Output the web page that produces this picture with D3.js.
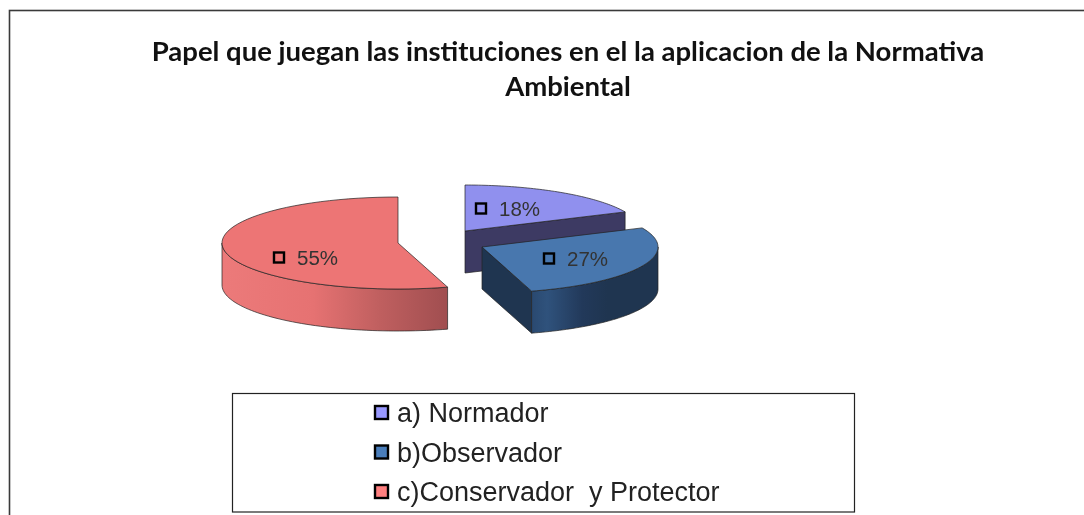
<!DOCTYPE html>
<html><head><meta charset="utf-8">
<script src="https://cdn.jsdelivr.net/npm/d3@7"></script>
<style>html,body{margin:0;padding:0;background:#fff;overflow:hidden}svg{display:block;filter:blur(0.45px)}</style>
</head><body><div id="chart"></div>
<script>
const categories = ["a) Normador", "b)Observador", "c)Conservador  y Protector"];
const values = [2, 3, 6];
const labels = ["18%", "27%", "55%"];
const titleLines = ["Papel que juegan las instituciones en el la aplicacion de la Normativa", "Ambiental"];

const topColors = ["#9090ee", "#4877ae", "#ed7575"];
const swatchColors = ["#9999ff", "#4a7ebb", "#ff8080"];
const W = 1084, H = 515, RX = 176, RY = 46, DEPTH = 42;
const centers = [[465, 231], [482, 247], [398, 243]];
const labelOffsets = [[16, -23], [67, 11], [-119, 14]];

const svg = d3.select("#chart").append("svg").attr("width", W).attr("height", H);
const defs = svg.append("defs");
function grad(id, x1, x2, stops) {
  const g = defs.append("linearGradient").attr("id", id).attr("gradientUnits", "userSpaceOnUse")
    .attr("x1", x1).attr("x2", x2).attr("y1", 0).attr("y2", 0);
  stops.forEach(s => g.append("stop").attr("offset", s[0]).attr("stop-color", s[1]));
  return `url(#${id})`;
}
const arcs = d3.pie().sort(null)(values);
const px = d3.scaleLinear().domain([-1, 1]).range([-RX, RX]);
const py = d3.scaleLinear().domain([-1, 1]).range([-RY, RY]);
const P = (c, a, dz = 0) => [c[0] + px(Math.sin(a)), c[1] + py(-Math.cos(a)) + dz];
const line = d3.line();
const sample = (a0, a1) => d3.range(0, 61).map(i => a0 + (a1 - a0) * i / 60);
const stroke = "#222";

svg.append("rect").attr("x", 9.5).attr("y", 10.5).attr("width", W + 20).attr("height", H + 20)
  .attr("fill", "#fff").attr("stroke", "#3a3a3a").attr("stroke-width", 1.6);

const t = svg.append("g").attr("font-family", "Lato, 'Open Sans', sans-serif").attr("font-weight", 700)
  .attr("font-size", 27.5).attr("fill", "#111").attr("text-anchor", "middle");
t.append("text").attr("x", 568).attr("y", 61).text(titleLines[0]);
t.append("text").attr("x", 568).attr("y", 96).text(titleLines[1]);

function wall(c, a0, a1, fill) {
  const upper = sample(a0, a1).map(a => P(c, a));
  const lower = sample(a1, a0).map(a => P(c, a, DEPTH));
  svg.append("path").attr("d", line(upper.concat(lower)) + "Z").attr("fill", fill).attr("stroke", stroke).attr("stroke-width", 0.7);
}
function face(c, a, fill) {
  const e = P(c, a);
  const pts = [c, e, [e[0], e[1] + DEPTH], [c[0], c[1] + DEPTH]];
  svg.append("path").attr("d", line(pts) + "Z").attr("fill", fill).attr("stroke", stroke).attr("stroke-width", 0.7);
}
function topFace(i) {
  const c = centers[i], a = arcs[i];
  const pts = [c].concat(sample(a.startAngle, a.endAngle).map(x => P(c, x)));
  svg.append("path").attr("d", line(pts) + "Z").attr("fill", topColors[i]).attr("stroke", stroke).attr("stroke-width", 0.7);
}
const PI = Math.PI;
// red
wall(centers[2], arcs[2].startAngle, 1.5 * PI, grad("gR", 223, 448, [[0, "#ec7a7a"], [0.4, "#e67272"], [0.7, "#bf5f5f"], [1, "#a04e50"]]));
topFace(2);
// violet
face(centers[0], arcs[0].endAngle, "#3d3a63");
topFace(0);
// blue
face(centers[1], arcs[1].endAngle, "#1f3550");
wall(centers[1], Math.max(arcs[1].startAngle, PI / 2), arcs[1].endAngle,
  grad("gB", 532, 658, [[0, "#2a4970"], [0.12, "#2f527c"], [0.4, "#22395a"], [0.6, "#1f3550"], [1, "#1f3550"]]));
topFace(1);

// data labels
categories.forEach((d, i) => {
  const x = centers[i][0] + labelOffsets[i][0], y = centers[i][1] + labelOffsets[i][1];
  svg.append("rect").attr("x", x - 5).attr("y", y - 4.5).attr("width", 10).attr("height", 10)
    .attr("fill", topColors[i]).attr("stroke", "#000").attr("stroke-width", 2.4);
  svg.append("text").attr("x", x + 18).attr("y", y + 8).attr("font-family", "'Liberation Sans', Arial, sans-serif")
    .attr("font-size", 20.5).attr("fill", "#333").text(labels[i]);
});

// legend
svg.append("rect").attr("x", 232.5).attr("y", 393.5).attr("width", 622).attr("height", 118.5)
  .attr("fill", "#fff").attr("stroke", "#222").attr("stroke-width", 1.2);
const ly = d3.scalePoint().domain(categories).range([412, 491]);
categories.forEach((d, i) => {
  svg.append("rect").attr("x", 375).attr("y", ly(d) - 6).attr("width", 13).attr("height", 13)
    .attr("fill", swatchColors[i]).attr("stroke", "#000").attr("stroke-width", 2.4);
  svg.append("text").attr("x", 397).attr("y", ly(d) + 10).attr("font-family", "'Liberation Sans', Arial, sans-serif")
    .attr("font-size", 27).attr("fill", "#222").style("white-space", "pre").text(d);
});
</script></body></html>
